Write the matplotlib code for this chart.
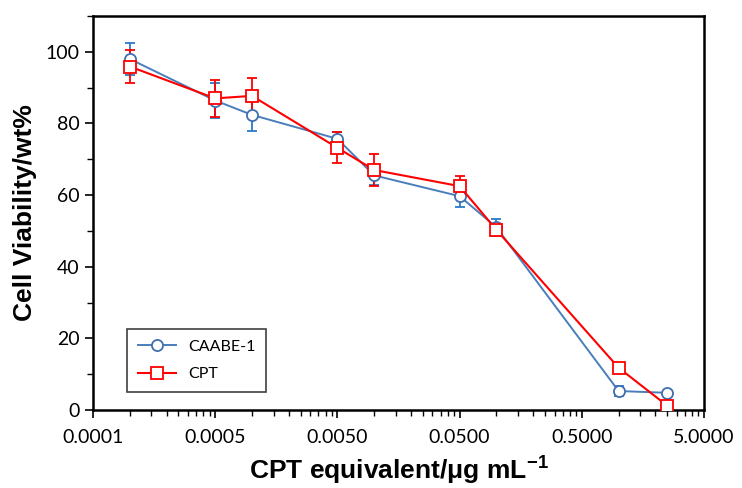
import numpy as np
import matplotlib
matplotlib.use('Agg')
import matplotlib.pyplot as plt
from matplotlib.ticker import FixedLocator, FixedFormatter, LogLocator, MultipleLocator, NullFormatter

# ------------------------------------------------------------
# DATA
# ------------------------------------------------------------
conc = [0.0001, 0.0005, 0.001, 0.005, 0.01, 0.05, 0.1, 1.0, 2.5]   # ug/mL

caabe_mean = [98.0, 86.4, 82.4, 75.7, 65.5, 59.7, 51.0, 5.3, 4.8]
caabe_err = [4.5, 4.8, 4.6, 2.0, 2.6, 2.9, 2.4, 1.5, 0.5]

cpt_mean = [95.9, 87.0, 87.7, 73.2, 67.0, 62.5, 50.3, 11.8, 1.2]
cpt_err = [4.6, 5.1, 5.0, 4.3, 4.5, 2.7, 0.8, 0.5, 0.5]

xtick_values = [5e-5, 5e-4, 5e-3, 5e-2, 5e-1, 5.0]
xtick_labels = ['0.0001', '0.0005', '0.0050', '0.0500', '0.5000', '5.0000']

# ------------------------------------------------------------
# STYLE
# ------------------------------------------------------------
plt.rcParams['mathtext.fontset'] = 'custom'
plt.rcParams['mathtext.rm'] = 'Liberation Sans:bold'
plt.rcParams['mathtext.bf'] = 'Liberation Sans:bold'

blue = '#4a7ebb'
blue_err = '#2a7bc8'
red = '#ff0000'

fig = plt.figure(figsize=(7.42, 4.88), dpi=100)
ax = fig.add_axes([93 / 742, 1 - 410 / 488, 611 / 742, 394 / 488])

# error bars first, then lines + hollow markers on top
ax.errorbar(conc, caabe_mean, yerr=caabe_err, fmt='none', ecolor=blue_err,
            elinewidth=1.3, capsize=3.5, capthick=1.3, zorder=2)
ax.plot(conc, caabe_mean, color=blue, lw=1.4, marker='o', ms=8, mfc='white',
        mec='#3f6fae', mew=1.3, label='CAABE-1', zorder=3)

ax.errorbar(conc, cpt_mean, yerr=cpt_err, fmt='none', ecolor=red,
            elinewidth=1.3, capsize=3.5, capthick=1.3, zorder=2)
ax.plot(conc, cpt_mean, color=red, lw=1.5, marker='s', ms=8, mfc='white',
        mec=red, mew=1.3, label='CPT', zorder=4)

ax.set_xscale('log')
ax.set_xlim(5e-5, 5.0)
ax.set_ylim(0, 110)

ax.xaxis.set_major_locator(FixedLocator(xtick_values))
ax.xaxis.set_major_formatter(FixedFormatter(xtick_labels))
ax.xaxis.set_minor_locator(LogLocator(base=10, subs=np.arange(2, 10) * 0.5, numticks=20))
ax.xaxis.set_minor_formatter(NullFormatter())

ax.yaxis.set_major_locator(FixedLocator([0, 20, 40, 60, 80, 100]))
ax.yaxis.set_minor_locator(MultipleLocator(10))

for s in ax.spines.values():
    s.set_linewidth(1.8)
    s.set_color('black')

ax.tick_params(axis='both', which='major', direction='out', length=6, width=1.2,
               labelsize=14)
ax.tick_params(axis='both', which='minor', direction='out', length=4, width=1.0)
ax.tick_params(axis='x', which='major', pad=8)
for lbl in ax.get_xticklabels() + ax.get_yticklabels():
    lbl.set_family('Lato')

ax.set_xlabel('CPT equivalent/\u03bcg mL$^{\\mathregular{-1}}$', fontsize=19,
              fontweight='bold', family='Liberation Sans', labelpad=5)
ax.set_ylabel('Cell Viability/wt%', fontsize=19, fontweight='bold',
              family='Liberation Sans', labelpad=6)

leg = ax.legend(loc='lower left', bbox_to_anchor=(0.056, 0.046), borderaxespad=0,
                fancybox=False, edgecolor='#404040', framealpha=1,
                prop={'family': 'Lato', 'size': 11.5}, handlelength=2.4,
                borderpad=0.65, labelspacing=0.85, handletextpad=0.8)
leg.get_frame().set_linewidth(1.2)

fig.savefig('out.png', dpi=100)
